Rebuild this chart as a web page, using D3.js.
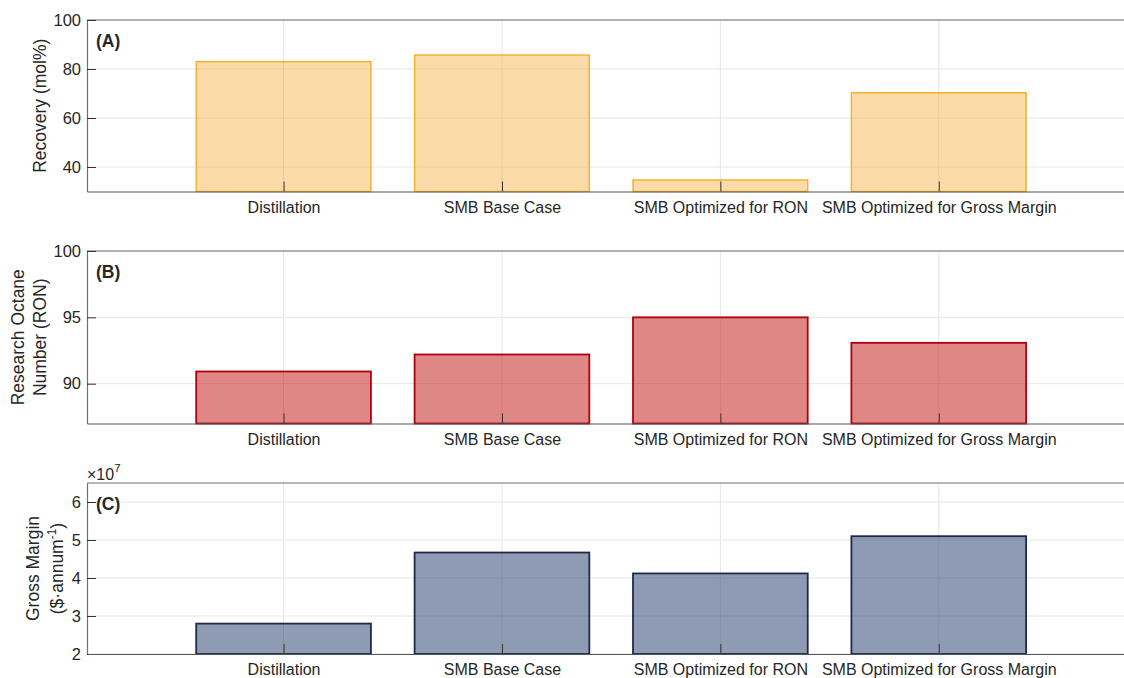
<!DOCTYPE html>
<html>
<head>
<meta charset="utf-8">
<script src="https://cdn.jsdelivr.net/npm/d3@7"></script>
<style>
  html, body { margin: 0; padding: 0; background: #fff; overflow: hidden; }
  svg { display: block; font-family: "Liberation Sans", Arial, Helvetica, sans-serif; }
</style>
</head>
<body>
<svg id="chart" width="1124" height="678"></svg>
<script>
// Process comparison: distillation vs. simulated moving bed (SMB) cases
const categories = ["Distillation", "SMB Base Case", "SMB Optimized for RON", "SMB Optimized for Gross Margin"];

const recovery = [83.0, 85.7, 34.7, 70.3];           // mol%
const ron = [90.92, 92.2, 95.0, 93.08];              // research octane number
const grossMargin = [2.80e7, 4.67e7, 4.12e7, 5.10e7]; // $/annum

const recoveryTicks = [40, 60, 80, 100];
const ronTicks = [90, 95, 100];
const marginTicks = [2e7, 3e7, 4e7, 5e7, 6e7];

const svg = d3.select("#chart");
const W = 1124;
const left = 87;

// Category positions 1..4 on a continuous axis, bars 0.8 wide
const x = d3.scaleLinear().domain([0.1, 4.9]).range([left, left + 4.8 * 218.4]);
const catIdx = categories.map((_, i) => i + 1);

const panels = [
  {
    tag: "(A)", values: recovery, ticks: recoveryTicks, domain: [30, 100],
    top: 20, bottom: 191.5, fmt: d => d,
    fill: "#f6a623", fillOpacity: 0.4, stroke: "#f5ad2a", strokeWidth: 1.4,
    label: ["Recovery (mol%)"], labelX: [46]
  },
  {
    tag: "(B)", values: ron, ticks: ronTicks, domain: [87, 100],
    top: 251, bottom: 423.5, fmt: d => d,
    fill: "#be0f0a", fillOpacity: 0.5, stroke: "#b0000e", strokeWidth: 1.8,
    label: ["Research Octane", "Number (RON)"], labelX: [24, 46]
  },
  {
    tag: "(C)", values: grossMargin, ticks: marginTicks, domain: [2e7, 6.5e7],
    top: 483, bottom: 654, fmt: d => d / 1e7,
    fill: "#1f3765", fillOpacity: 0.5, stroke: "#1c2a4c", strokeWidth: 1.8,
    label: ["Gross Margin", null], labelX: [39, 63], exponent: true
  }
];

const textColor = "#262626";
const gridColor = "#e6e6e6";
const boxColor = "#6f6f6f";

panels.forEach(p => {
  const y = d3.scaleLinear().domain(p.domain).range([p.bottom, p.top]);
  const g = svg.append("g");

  // grid
  g.append("g").selectAll("line.hgrid").data(p.ticks).join("line")
    .attr("x1", left).attr("x2", W)
    .attr("y1", d => y(d)).attr("y2", d => y(d))
    .attr("stroke", gridColor).attr("stroke-width", 1);
  g.append("g").selectAll("line.vgrid").data(catIdx).join("line")
    .attr("x1", d => x(d)).attr("x2", d => x(d))
    .attr("y1", p.top).attr("y2", p.bottom)
    .attr("stroke", gridColor).attr("stroke-width", 1);

  // bars
  g.append("g").selectAll("rect").data(p.values).join("rect")
    .attr("x", (d, i) => x(catIdx[i] - 0.4))
    .attr("width", x(1.4) - x(0.6))
    .attr("y", d => y(d))
    .attr("height", d => p.bottom - y(d))
    .attr("fill", p.fill).attr("fill-opacity", p.fillOpacity)
    .attr("stroke", p.stroke).attr("stroke-width", p.strokeWidth);

  // top box edge
  g.append("line")
    .attr("x1", left).attr("x2", W)
    .attr("y1", p.top).attr("y2", p.top)
    .attr("stroke", boxColor).attr("stroke-width", 1.2);

  // y axis
  const ya = g.append("g").attr("transform", `translate(${left},0)`)
    .call(d3.axisLeft(y).tickValues(p.ticks).tickFormat(p.fmt)
      .tickSize(-9).tickSizeOuter(0).tickPadding(6));
  ya.select(".domain").attr("stroke", boxColor).attr("stroke-width", 1.2);
  ya.selectAll(".tick line").attr("stroke", "#333").attr("stroke-width", 1);
  ya.selectAll(".tick text").attr("fill", textColor).attr("font-size", 16.5)
    .attr("font-family", "Liberation Sans, Arial, sans-serif");

  // x axis
  const xa = g.append("g").attr("transform", `translate(0,${p.bottom})`)
    .call(d3.axisBottom(x).tickValues(catIdx).tickFormat(d => categories[d - 1])
      .tickSize(-10).tickSizeOuter(0).tickPadding(10));
  xa.select(".domain").attr("stroke", "#555").attr("stroke-width", 1.2);
  xa.selectAll(".tick line").attr("stroke", "#333").attr("stroke-width", 1);
  xa.selectAll(".tick text").attr("fill", textColor).attr("font-size", 16)
    .attr("font-family", "Liberation Sans, Arial, sans-serif");

  // panel tag
  g.append("text")
    .attr("x", left + 9).attr("y", p.top + 27)
    .attr("font-size", 17.5).attr("font-weight", "bold").attr("fill", textColor)
    .text(p.tag);

  // y label (rotated)
  const cy = (p.top + p.bottom) / 2;
  p.label.forEach((line, i) => {
    const t = g.append("text")
      .attr("transform", `translate(${p.labelX[i]},${cy}) rotate(-90)`)
      .attr("text-anchor", "middle")
      .attr("font-size", 17.5).attr("fill", textColor);
    if (line !== null) {
      t.text(line);
    } else {
      t.append("tspan").text("($\u00B7annum");
      t.append("tspan").attr("dy", -7).attr("font-size", 12).text("-1");
      t.append("tspan").attr("dy", 7).text(")");
    }
  });

  // exponent marker
  if (p.exponent) {
    const e = g.append("text")
      .attr("x", left).attr("y", p.top - 3)
      .attr("font-size", 16).attr("fill", textColor);
    e.append("tspan").text("\u00D710");
    e.append("tspan").attr("dy", -8).attr("font-size", 11.5).text("7");
  }
});
</script>
</body>
</html>
